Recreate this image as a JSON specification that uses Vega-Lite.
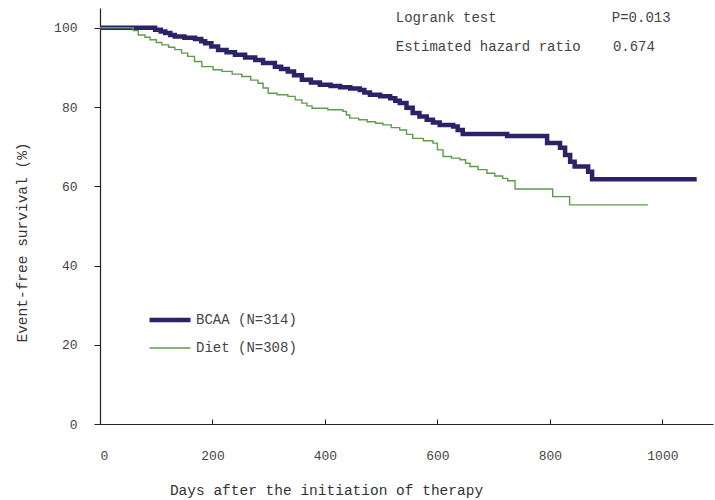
{
  "$schema": "https://vega.github.io/schema/vega-lite/v6.json",
  "autosize": "none",
  "width": 613,
  "height": 416,
  "padding": {"left": 100, "top": 8, "right": 2, "bottom": 76},
  "background": "white",
  "config": {
    "view": {"stroke": null},
    "font": "Liberation Mono",
    "text": {"font": "Liberation Mono"}
  },
  "datasets": {
    "curves": [
      {"day": 0, "surv": 100, "group": "BCAA (N=314)"},
      {"day": 98, "surv": 99.5, "group": "BCAA (N=314)"},
      {"day": 108, "surv": 99.1, "group": "BCAA (N=314)"},
      {"day": 116, "surv": 98.7, "group": "BCAA (N=314)"},
      {"day": 125, "surv": 98.2, "group": "BCAA (N=314)"},
      {"day": 133, "surv": 97.8, "group": "BCAA (N=314)"},
      {"day": 150, "surv": 97.5, "group": "BCAA (N=314)"},
      {"day": 169, "surv": 97.2, "group": "BCAA (N=314)"},
      {"day": 180, "surv": 96.6, "group": "BCAA (N=314)"},
      {"day": 187, "surv": 96.1, "group": "BCAA (N=314)"},
      {"day": 198, "surv": 95.3, "group": "BCAA (N=314)"},
      {"day": 210, "surv": 94.4, "group": "BCAA (N=314)"},
      {"day": 225, "surv": 93.8, "group": "BCAA (N=314)"},
      {"day": 240, "surv": 93.2, "group": "BCAA (N=314)"},
      {"day": 258, "surv": 92.5, "group": "BCAA (N=314)"},
      {"day": 276, "surv": 91.9, "group": "BCAA (N=314)"},
      {"day": 290, "surv": 91.1, "group": "BCAA (N=314)"},
      {"day": 311, "surv": 90.2, "group": "BCAA (N=314)"},
      {"day": 322, "surv": 89.6, "group": "BCAA (N=314)"},
      {"day": 334, "surv": 89.0, "group": "BCAA (N=314)"},
      {"day": 345, "surv": 88.0, "group": "BCAA (N=314)"},
      {"day": 359, "surv": 86.9, "group": "BCAA (N=314)"},
      {"day": 375, "surv": 86.2, "group": "BCAA (N=314)"},
      {"day": 391, "surv": 85.6, "group": "BCAA (N=314)"},
      {"day": 410, "surv": 85.3, "group": "BCAA (N=314)"},
      {"day": 427, "surv": 85.0, "group": "BCAA (N=314)"},
      {"day": 445, "surv": 84.7, "group": "BCAA (N=314)"},
      {"day": 462, "surv": 84.3, "group": "BCAA (N=314)"},
      {"day": 470, "surv": 83.7, "group": "BCAA (N=314)"},
      {"day": 480, "surv": 83.1, "group": "BCAA (N=314)"},
      {"day": 498, "surv": 82.7, "group": "BCAA (N=314)"},
      {"day": 516, "surv": 82.2, "group": "BCAA (N=314)"},
      {"day": 525, "surv": 81.6, "group": "BCAA (N=314)"},
      {"day": 533, "surv": 81.0, "group": "BCAA (N=314)"},
      {"day": 545, "surv": 79.8, "group": "BCAA (N=314)"},
      {"day": 556, "surv": 78.5, "group": "BCAA (N=314)"},
      {"day": 568, "surv": 77.6, "group": "BCAA (N=314)"},
      {"day": 581, "surv": 76.8, "group": "BCAA (N=314)"},
      {"day": 592, "surv": 76.1, "group": "BCAA (N=314)"},
      {"day": 604, "surv": 75.5, "group": "BCAA (N=314)"},
      {"day": 628, "surv": 75.1, "group": "BCAA (N=314)"},
      {"day": 636, "surv": 74.2, "group": "BCAA (N=314)"},
      {"day": 645, "surv": 73.2, "group": "BCAA (N=314)"},
      {"day": 724, "surv": 72.7, "group": "BCAA (N=314)"},
      {"day": 795, "surv": 70.9, "group": "BCAA (N=314)"},
      {"day": 818, "surv": 69.7, "group": "BCAA (N=314)"},
      {"day": 827, "surv": 67.9, "group": "BCAA (N=314)"},
      {"day": 836, "surv": 66.2, "group": "BCAA (N=314)"},
      {"day": 844, "surv": 65.0, "group": "BCAA (N=314)"},
      {"day": 868, "surv": 63.7, "group": "BCAA (N=314)"},
      {"day": 875, "surv": 61.8, "group": "BCAA (N=314)"},
      {"day": 1061, "surv": 61.8, "group": "BCAA (N=314)"},
      {"day": 0, "surv": 100, "group": "Diet (N=308)"},
      {"day": 59, "surv": 99.3, "group": "Diet (N=308)"},
      {"day": 68, "surv": 98.2, "group": "Diet (N=308)"},
      {"day": 80, "surv": 97.6, "group": "Diet (N=308)"},
      {"day": 89, "surv": 97.0, "group": "Diet (N=308)"},
      {"day": 100, "surv": 96.3, "group": "Diet (N=308)"},
      {"day": 110, "surv": 95.7, "group": "Diet (N=308)"},
      {"day": 122, "surv": 95.1, "group": "Diet (N=308)"},
      {"day": 133, "surv": 94.5, "group": "Diet (N=308)"},
      {"day": 145, "surv": 93.6, "group": "Diet (N=308)"},
      {"day": 156, "surv": 92.8, "group": "Diet (N=308)"},
      {"day": 168, "surv": 91.5, "group": "Diet (N=308)"},
      {"day": 181, "surv": 90.2, "group": "Diet (N=308)"},
      {"day": 201, "surv": 89.4, "group": "Diet (N=308)"},
      {"day": 217, "surv": 89.0, "group": "Diet (N=308)"},
      {"day": 235, "surv": 88.3, "group": "Diet (N=308)"},
      {"day": 252, "surv": 87.7, "group": "Diet (N=308)"},
      {"day": 268, "surv": 86.8, "group": "Diet (N=308)"},
      {"day": 281, "surv": 86.0, "group": "Diet (N=308)"},
      {"day": 290, "surv": 84.8, "group": "Diet (N=308)"},
      {"day": 299, "surv": 83.5, "group": "Diet (N=308)"},
      {"day": 315, "surv": 83.1, "group": "Diet (N=308)"},
      {"day": 334, "surv": 82.7, "group": "Diet (N=308)"},
      {"day": 347, "surv": 81.8, "group": "Diet (N=308)"},
      {"day": 359, "surv": 81.0, "group": "Diet (N=308)"},
      {"day": 368, "surv": 80.3, "group": "Diet (N=308)"},
      {"day": 377, "surv": 79.7, "group": "Diet (N=308)"},
      {"day": 405, "surv": 79.3, "group": "Diet (N=308)"},
      {"day": 432, "surv": 78.9, "group": "Diet (N=308)"},
      {"day": 438, "surv": 78.0, "group": "Diet (N=308)"},
      {"day": 444, "surv": 77.2, "group": "Diet (N=308)"},
      {"day": 460, "surv": 76.8, "group": "Diet (N=308)"},
      {"day": 475, "surv": 76.3, "group": "Diet (N=308)"},
      {"day": 490, "surv": 75.9, "group": "Diet (N=308)"},
      {"day": 503, "surv": 75.5, "group": "Diet (N=308)"},
      {"day": 518, "surv": 74.8, "group": "Diet (N=308)"},
      {"day": 533, "surv": 74.2, "group": "Diet (N=308)"},
      {"day": 545, "surv": 73.1, "group": "Diet (N=308)"},
      {"day": 556, "surv": 72.1, "group": "Diet (N=308)"},
      {"day": 575, "surv": 71.5, "group": "Diet (N=308)"},
      {"day": 592, "surv": 70.9, "group": "Diet (N=308)"},
      {"day": 600, "surv": 69.2, "group": "Diet (N=308)"},
      {"day": 610, "surv": 67.5, "group": "Diet (N=308)"},
      {"day": 625, "surv": 67.1, "group": "Diet (N=308)"},
      {"day": 640, "surv": 66.7, "group": "Diet (N=308)"},
      {"day": 650, "surv": 65.8, "group": "Diet (N=308)"},
      {"day": 658, "surv": 65.0, "group": "Diet (N=308)"},
      {"day": 672, "surv": 64.2, "group": "Diet (N=308)"},
      {"day": 688, "surv": 63.3, "group": "Diet (N=308)"},
      {"day": 702, "surv": 62.6, "group": "Diet (N=308)"},
      {"day": 716, "surv": 62.0, "group": "Diet (N=308)"},
      {"day": 725, "surv": 61.4, "group": "Diet (N=308)"},
      {"day": 738, "surv": 59.3, "group": "Diet (N=308)"},
      {"day": 805, "surv": 57.4, "group": "Diet (N=308)"},
      {"day": 835, "surv": 55.3, "group": "Diet (N=308)"},
      {"day": 974, "surv": 55.3, "group": "Diet (N=308)"}
    ],
    "notes": [
      {"day": 526, "surv": 102.5, "label": "Logrank test"},
      {"day": 910, "surv": 102.5, "label": "P=0.013"},
      {"day": 526, "surv": 95.2, "label": "Estimated hazard ratio"},
      {"day": 912, "surv": 95.2, "label": "0.674"}
    ]
  },
  "layer": [
    {
      "data": {"name": "curves"},
      "mark": {"type": "line", "interpolate": "step-after", "strokeJoin": "miter", "strokeCap": "butt"},
      "encoding": {
        "x": {
          "field": "day", "type": "quantitative",
          "scale": {"domain": [0, 1090], "nice": false, "zero": false},
          "axis": {
            "values": [0, 200, 400, 600, 800, 1000],
            "format": "d",
            "title": "Days after the initiation of therapy",
            "grid": false,
            "domainColor": "#222", "domainWidth": 1.2,
            "tickColor": "#222", "tickSize": -5, "tickWidth": 1,
            "labelFont": "Liberation Mono", "labelFontSize": 13, "labelColor": "#444",
            "labelPadding": 36, "labelBaseline": "middle",
            "titleFont": "Liberation Mono", "titleFontSize": 14.5, "titleFontWeight": "normal", "titleColor": "#333",
            "titleX": 226, "titleY": 66, "titleAlign": "center", "titleBaseline": "middle", "titleAnchor": null
          }
        },
        "y": {
          "field": "surv", "type": "quantitative",
          "scale": {"domain": [0, 105], "nice": false, "zero": true},
          "axis": {
            "values": [0, 20, 40, 60, 80, 100],
            "title": "Event-free survival (%)",
            "grid": false,
            "domainColor": "#222", "domainWidth": 1.2,
            "tickColor": "#222", "tickSize": 6, "tickWidth": 1,
            "labelFont": "Liberation Mono", "labelFontSize": 13, "labelColor": "#444",
            "labelPadding": 17,
            "titleFont": "Liberation Mono", "titleFontSize": 14.5, "titleFontWeight": "normal", "titleColor": "#333",
            "titleX": -78, "titleY": 234, "titleAngle": -90, "titleAlign": "center", "titleBaseline": "middle", "titleAnchor": null
          }
        },
        "color": {
          "field": "group", "type": "nominal",
          "scale": {"domain": ["BCAA (N=314)", "Diet (N=308)"], "range": ["#2b2368", "#5d9c4c"]},
          "legend": {
            "title": null, "orient": "none", "legendX": 47, "legendY": 298,
            "symbolType": "stroke", "symbolSize": 1681, "symbolStrokeWidth": 4,
            "labelFont": "Liberation Mono", "labelFontSize": 14, "labelColor": "#444",
            "labelOffset": 3, "rowPadding": 0, "padding": 0, "clipHeight": 28
          }
        },
        "strokeWidth": {
          "field": "group", "type": "nominal",
          "scale": {"domain": ["BCAA (N=314)", "Diet (N=308)"], "range": [4.5, 1.4]},
          "legend": {
            "title": null, "orient": "none", "legendX": 47, "legendY": 298,
            "symbolType": "stroke", "symbolSize": 1681,
            "labelFont": "Liberation Mono", "labelFontSize": 14, "labelColor": "#444",
            "labelOffset": 3, "rowPadding": 0, "padding": 0, "clipHeight": 28
          }
        }
      }
    },
    {
      "data": {"name": "notes"},
      "mark": {"type": "text", "align": "left", "baseline": "middle", "font": "Liberation Mono", "fontSize": 14, "color": "#444"},
      "encoding": {
        "x": {"field": "day", "type": "quantitative"},
        "y": {"field": "surv", "type": "quantitative"},
        "text": {"field": "label", "type": "nominal"}
      }
    }
  ]
}
